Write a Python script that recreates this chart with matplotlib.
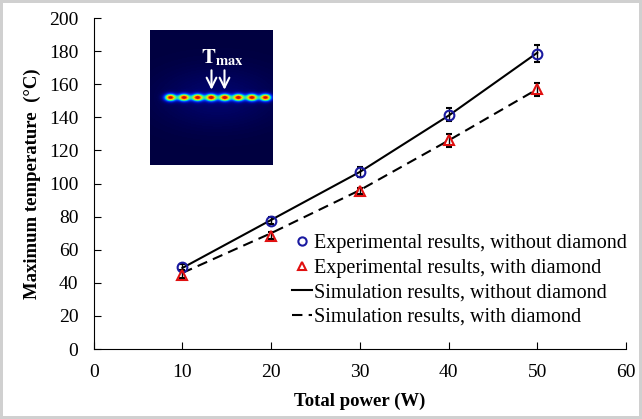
import numpy as np
import matplotlib.pyplot as plt
from matplotlib.colors import LinearSegmentedColormap

# Data
power = [10, 20, 30, 40, 50]
exp_without = [49.5, 77.5, 107, 141.5, 178.5]
exp_without_err = [2, 2, 3, 4, 5]
exp_with = [45, 68.5, 95.5, 126, 157]
exp_with_err = [2, 2, 2, 4, 4]
sim_without = [49, 78, 107, 141, 179]
sim_with = [46, 70, 96, 126, 157]

plt.rcParams['font.family'] = ['Liberation Serif', 'DejaVu Serif']
plt.rcParams['mathtext.fontset'] = 'stix'

fig = plt.figure(figsize=(6.42, 4.19), dpi=100)
fig.patch.set_edgecolor('#d0d0d0')
fig.patch.set_linewidth(3)
ax = fig.add_axes([0.146, 0.167, 0.829, 0.790])

ax.plot(power, sim_without, color='black', lw=1.5, label='Simulation results, without diamond')
ax.plot(power, sim_with, color='black', lw=1.5, ls=(0, (5, 3)), label='Simulation results, with diamond')
e1 = ax.errorbar(power, exp_without, yerr=exp_without_err, fmt='o', mfc='none', mec='#1a1aa0',
                 mew=1.5, ms=7, ecolor='black', elinewidth=1, capsize=2.5)
e2 = ax.errorbar(power, exp_with, yerr=exp_with_err, fmt='^', mfc='none', mec='#e01010',
                 mew=1.5, ms=6.5, ecolor='black', elinewidth=1, capsize=2.5)

ax.set_xlim(0, 60)
ax.set_ylim(0, 200)
ax.set_xticks(range(0, 61, 10))
ax.set_yticks(range(0, 201, 20))
ax.tick_params(direction='in', labelsize=14, length=5)
ax.tick_params(axis='y', pad=11)
ax.tick_params(axis='x', pad=11)
for s in ['top', 'right']:
    ax.spines[s].set_visible(False)
ax.set_xlabel('Total power (W)', fontsize=13.5, fontweight='bold', labelpad=8)
ax.set_ylabel('Maximum temperature  (\u00b0C)', fontsize=13.5, fontweight='bold', labelpad=6)

lines = ax.get_lines()
handles = [e1.lines[0], e2.lines[0], lines[0], lines[1]]
labels = ['Experimental results, without diamond', 'Experimental results, with diamond',
          'Simulation results, without diamond', 'Simulation results, with diamond']
ax.legend(handles, labels, loc='lower right', bbox_to_anchor=(1.025, 0.03), frameon=False,
          fontsize=14.5, handlelength=1.0, handletextpad=0.1, labelspacing=0.27, borderaxespad=0.2,
          markerscale=0.85)

# Inset thermal image
cmap = LinearSegmentedColormap.from_list('thermal', [
    (0.0, '#000040'), (0.12, '#00069a'), (0.3, '#0040ff'), (0.45, '#00d0e0'),
    (0.6, '#70ff50'), (0.75, '#ffd000'), (0.9, '#ff5000'), (1.0, '#d01000')])
ins = fig.add_axes([150 / 642, 1 - 165 / 419, 123 / 642, 135 / 419])
yy, xx = np.mgrid[0:135, 0:123]
img = 0.06 * np.exp(-((yy - 67) / 30.0) ** 2) * np.exp(-((xx - 67) / 60.0) ** 2)
for cx in np.linspace(20, 115, 8):
    img = img + np.exp(-(((xx - cx) / 4.0) ** 2 + ((yy - 67) / 2.5) ** 2) / 2)
ins.imshow(np.clip(img, 0, 1), cmap=cmap, vmin=0, vmax=1, aspect='auto', interpolation='bilinear')
ins.set_xticks([])
ins.set_yticks([])
for s in ins.spines.values():
    s.set_visible(False)
ins.text(72, 27, r'$\mathbf{T}_{\mathbf{max}}$', color='white', fontsize=15, ha='center', va='center')
for ax_x in [61, 74]:
    ins.annotate('', xy=(ax_x, 62), xytext=(ax_x, 37),
                 arrowprops=dict(arrowstyle='->,head_length=0.7,head_width=0.35', color='white', lw=1.5))

fig.savefig('out.png', dpi=100)
